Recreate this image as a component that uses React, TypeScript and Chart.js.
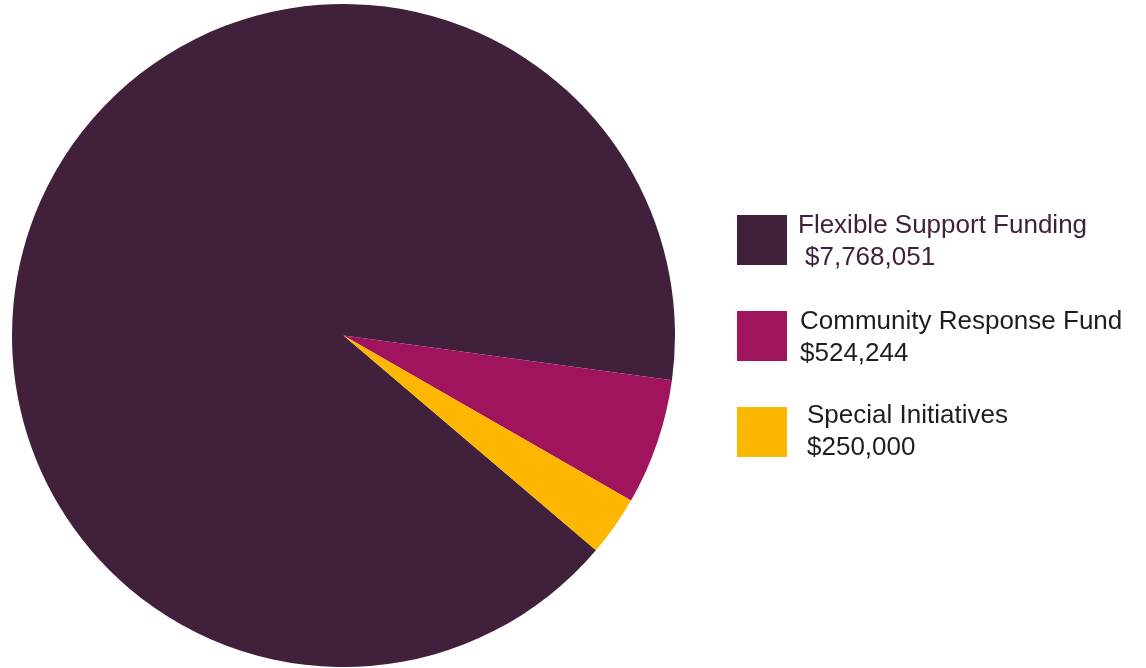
import React, { useEffect, useRef } from "react";
import { Chart, registerables } from "chart.js";

Chart.register(...registerables);

const categories = ["Flexible Support Funding", "Community Response Fund", "Special Initiatives"];
const amounts = [7768051, 524244, 250000];
const sliceColors = ["#40203A", "#A0145E", "#FDB700"];
const labelColors = ["#40203A", "#1e1e1e", "#1e1e1e"];

const fmt = (v: number) => "$" + v.toLocaleString("en-US");

const legendPlugin = {
  id: "customLegend",
  afterDraw(chart: any) {
    const ctx = chart.ctx as CanvasRenderingContext2D;
    const boxX = 737;
    const boxTops = [215, 311, 407];
    const textBase = [233, 329, 423];
    const textX = [798, 800, 807];
    const valueX = [805, 800, 807];
    ctx.save();
    ctx.font = "26px 'Liberation Sans', Arial, sans-serif";
    ctx.textBaseline = "alphabetic";
    ctx.textAlign = "left";
    categories.forEach((c, i) => {
      ctx.fillStyle = sliceColors[i];
      ctx.fillRect(boxX, boxTops[i], 50, 50);
      ctx.fillStyle = labelColors[i];
      ctx.fillText(c, textX[i], textBase[i]);
      ctx.fillText(fmt(amounts[i]), valueX[i], textBase[i] + 32);
    });
    ctx.restore();
  },
};

export default function App() {
  const ref = useRef<HTMLCanvasElement>(null);
  useEffect(() => {
    if (!ref.current) return;
    const chart = new Chart(ref.current, {
      type: "pie",
      data: {
        labels: categories,
        datasets: [
          {
            data: amounts,
            backgroundColor: sliceColors,
            borderWidth: 0,
          },
        ],
      },
      options: {
        animation: false,
        responsive: false,
        rotation: 130.4,
        layout: { padding: { left: 12, top: 4, right: 471, bottom: 1 } },
        plugins: {
          legend: { display: false },
          tooltip: { enabled: false },
        },
      },
      plugins: [legendPlugin],
    });
    return () => chart.destroy();
  }, []);
  return (
    <div style={{ position: "absolute", left: 0, top: 0, width: 1146, height: 668, background: "#fff" }}>
      <canvas ref={ref} width={1146} height={668} style={{ width: 1146, height: 668, display: "block" }} />
    </div>
  );
}
